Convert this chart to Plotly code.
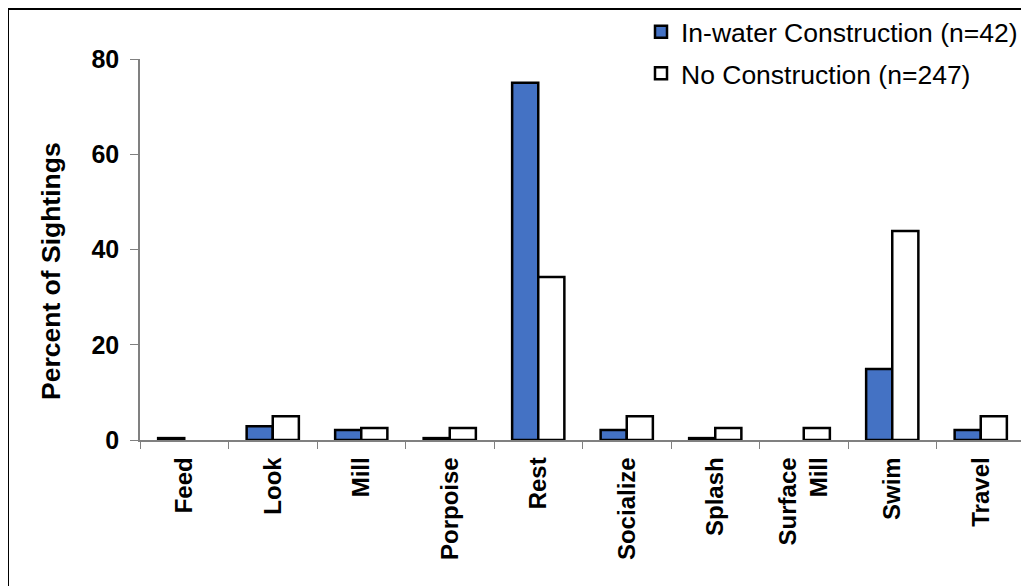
import plotly.graph_objects as go

categories = ["Feed", "Look", "Mill", "Porpoise", "Rest", "Socialize", "Splash",
              "Surface<br>Mill", "Swim", "Travel"]
in_water = [0.4, 2.9, 2.1, 0.4, 75.0, 2.1, 0.4, 0.0, 14.9, 2.1]
no_constr = [0.0, 5.0, 2.5, 2.5, 34.2, 5.0, 2.5, 2.5, 43.9, 5.0]
y_ticks = [0, 20, 40, 60, 80]

FONT = "Arial, 'Liberation Sans', sans-serif"

OFF = 8  # page offset of the figure (body margin)
W, H = 1029, 586
L, T = 140 - OFF, 59 - OFF
R = W - (1025 - OFF)
B = H - (440 - OFF)
pw = W - L - R
ph = H - T - B

def px_x(x):
    return (x - OFF - L) / pw

def px_y(y):
    return (H - B - (y - OFF)) / ph

def nz(vals):
    # zero-valued categories draw no bar at all
    return [v if v > 0 else None for v in vals]

fig = go.Figure()
fig.add_trace(go.Bar(
    x=categories, y=nz(in_water), name="In-water Construction (n=42)",
    marker=dict(color="#4472C4", line=dict(color="black", width=2.5)),
    legendgroup="a",
))
fig.add_trace(go.Bar(
    x=categories, y=nz(no_constr), name="No Construction (n=247)",
    marker=dict(color="white", line=dict(color="black", width=2.5)),
    legendgroup="b",
))

fig.update_layout(
    width=W, height=H,
    margin=dict(l=L, r=R, t=T, b=B, autoexpand=False),
    paper_bgcolor="white", plot_bgcolor="white",
    barmode="group", bargap=0.41, bargroupgap=0,
    font=dict(family=FONT, color="black"),
    showlegend=True,
    legend=dict(
        x=px_x(641), y=px_y(8), xanchor="left", yanchor="top",
        font=dict(size=26.5, family=FONT, color="black"),
        bgcolor="rgba(0,0,0,0)", tracegroupgap=4,
    ),
    xaxis=dict(
        type="category", tickangle=-90, tickson="boundaries",
        ticks="outside", ticklen=7, tickcolor="#808080", tickwidth=1,
        showline=True, linecolor="#808080", linewidth=1.5,
        tickfont=dict(size=24, family=FONT, color="black", weight="bold"),
        showgrid=False, zeroline=False, ticklabelstandoff=6,
    ),
    yaxis=dict(
        range=[0, 80], tickvals=y_ticks,
        ticks="outside", ticklen=8, tickcolor="#808080", tickwidth=1,
        showline=True, linecolor="#808080", linewidth=1.5,
        tickfont=dict(size=25, family=FONT, color="black", weight="bold"),
        showgrid=False, zeroline=False, ticklabelstandoff=6,
    ),
    annotations=[dict(
        text="Percent of Sightings", textangle=-90,
        x=px_x(51), y=px_y(271), xref="paper", yref="paper",
        xanchor="center", yanchor="middle", showarrow=False,
        font=dict(size=26.5, family=FONT, color="black", weight="bold"),
    )],
    shapes=[
        dict(type="line", xref="paper", yref="paper",
             x0=px_x(8), x1=px_x(1050), y0=px_y(9), y1=px_y(9),
             line=dict(color="black", width=2)),
        dict(type="line", xref="paper", yref="paper",
             x0=px_x(8), x1=px_x(8), y0=px_y(9), y1=px_y(620),
             line=dict(color="black", width=2)),
    ],
)

fig.write_html("out.html")
